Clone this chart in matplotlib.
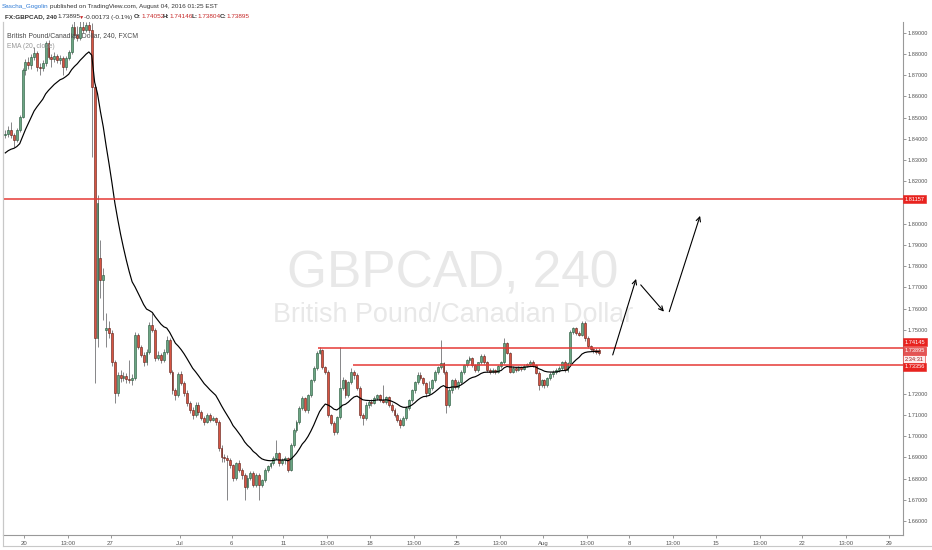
import numpy as np
import pandas as pd
import matplotlib
matplotlib.use("Agg")
import matplotlib.pyplot as plt

plt.rcParams['font.family'] = ['Liberation Sans', 'DejaVu Sans']

# FX:GBPCAD 240 (FXCM) - 4h bars, Jun 16 20:00 .. Aug 04 04:00
bar_times = pd.date_range('2016-06-16 20:00', '2016-08-04 04:00', freq='4h')
bar_times = bar_times[bar_times.dayofweek < 5]

opens = [
    1.8418, 1.8423, 1.8442, 1.8418, 1.8395, 1.8442, 1.8503, 1.8724, 1.8762, 1.8748,
    1.8786, 1.8804, 1.8738, 1.8734, 1.8757, 1.8851, 1.8786, 1.8776, 1.8790, 1.8771,
    1.8781, 1.8738, 1.8781, 1.8809, 1.8927, 1.8889, 1.8875, 1.8927, 1.8913, 1.8935,
    1.8913, 1.8644, 1.7462, 1.7839, 1.7735, 1.7500, 1.7509, 1.7486, 1.7349, 1.7203,
    1.7288, 1.7274, 1.7283, 1.7269, 1.7264, 1.7274, 1.7476, 1.7420, 1.7382, 1.7349,
    1.7396, 1.7523, 1.7500, 1.7368, 1.7382, 1.7358, 1.7396, 1.7453, 1.7302, 1.7217,
    1.7194, 1.7292, 1.7250, 1.7203, 1.7156, 1.7123, 1.7099, 1.7146, 1.7113, 1.7085,
    1.7066, 1.7099, 1.7076, 1.7085, 1.7066, 1.6944, 1.6901, 1.6897, 1.6888, 1.6864,
    1.6803, 1.6873, 1.6840, 1.6817, 1.6760, 1.6803, 1.6826, 1.6770, 1.6817, 1.6770,
    1.6793, 1.6840, 1.6859, 1.6873, 1.6897, 1.6920, 1.6873, 1.6888, 1.6897, 1.6840,
    1.6958, 1.7029, 1.7066, 1.7132, 1.7179, 1.7123, 1.7194, 1.7264, 1.7321, 1.7391,
    1.7406, 1.7325, 1.7302, 1.7099, 1.7061, 1.7019, 1.7090, 1.7226, 1.7264, 1.7194,
    1.7255, 1.7302, 1.7288, 1.7226, 1.7099, 1.7085, 1.7146, 1.7161, 1.7156, 1.7179,
    1.7194, 1.7170, 1.7161, 1.7184, 1.7146, 1.7123, 1.7099, 1.7076, 1.7052, 1.7085,
    1.7132, 1.7170, 1.7217, 1.7255, 1.7288, 1.7274, 1.7250, 1.7203, 1.7226, 1.7264,
    1.7302, 1.7325, 1.7344, 1.7302, 1.7146, 1.7217, 1.7264, 1.7231, 1.7255, 1.7302,
    1.7335, 1.7358, 1.7368, 1.7335, 1.7311, 1.7349, 1.7377, 1.7349, 1.7311, 1.7302,
    1.7311, 1.7302, 1.7330, 1.7349, 1.7438, 1.7391, 1.7302, 1.7321, 1.7311, 1.7325,
    1.7316, 1.7330, 1.7340, 1.7349, 1.7335, 1.7297, 1.7241, 1.7264, 1.7241, 1.7274,
    1.7292, 1.7302, 1.7311, 1.7321, 1.7349, 1.7311, 1.7344, 1.7490, 1.7509, 1.7486,
    1.7476, 1.7533, 1.7462, 1.7424, 1.7410, 1.7406, 1.74052,
]
highs = [
    1.8440, 1.8460, 1.8480, 1.8425, 1.8450, 1.8510, 1.8735, 1.8775, 1.8785, 1.8800,
    1.8830, 1.8815, 1.8755, 1.8770, 1.8860, 1.8865, 1.8800, 1.8810, 1.8800, 1.8795,
    1.8790, 1.8790, 1.8820, 1.8940, 1.8960, 1.8930, 1.8960, 1.8960, 1.8950, 1.8955,
    1.8945, 1.8660, 1.8136, 1.7924, 1.7790, 1.7580, 1.7540, 1.7500, 1.7360, 1.7300,
    1.7310, 1.7300, 1.7295, 1.7358, 1.7290, 1.7490, 1.7485, 1.7430, 1.7395, 1.7410,
    1.7535, 1.7580, 1.7510, 1.7400, 1.7390, 1.7410, 1.7470, 1.7460, 1.7310, 1.7225,
    1.7300, 1.7305, 1.7260, 1.7215, 1.7165, 1.7135, 1.7160, 1.7160, 1.7125, 1.7095,
    1.7110, 1.7110, 1.7095, 1.7090, 1.7075, 1.6960, 1.6915, 1.6910, 1.6895, 1.6870,
    1.6880, 1.6885, 1.6850, 1.6825, 1.6815, 1.6835, 1.6835, 1.6825, 1.6825, 1.6800,
    1.6850, 1.6865, 1.6880, 1.6905, 1.6982, 1.6925, 1.6895, 1.6905, 1.6900, 1.6965,
    1.7040, 1.7075, 1.7140, 1.7190, 1.7185, 1.7200, 1.7270, 1.7330, 1.7400, 1.7420,
    1.7410, 1.7330, 1.7310, 1.7105, 1.7070, 1.7095, 1.7420, 1.7280, 1.7270, 1.7260,
    1.7320, 1.7310, 1.7295, 1.7235, 1.7110, 1.7160, 1.7170, 1.7175, 1.7190, 1.7200,
    1.7200, 1.7240, 1.7190, 1.7190, 1.7155, 1.7130, 1.7110, 1.7085, 1.7095, 1.7140,
    1.7175, 1.7220, 1.7260, 1.7300, 1.7300, 1.7280, 1.7255, 1.7260, 1.7270, 1.7310,
    1.7330, 1.7453, 1.7350, 1.7310, 1.7225, 1.7270, 1.7275, 1.7265, 1.7310, 1.7340,
    1.7365, 1.7375, 1.7372, 1.7340, 1.7350, 1.7385, 1.7385, 1.7355, 1.7320, 1.7320,
    1.7315, 1.7335, 1.7355, 1.7462, 1.7445, 1.7395, 1.7330, 1.7325, 1.7330, 1.7330,
    1.7340, 1.7345, 1.7360, 1.7360, 1.7340, 1.7305, 1.7270, 1.7270, 1.7280, 1.7300,
    1.7310, 1.7320, 1.7330, 1.7355, 1.7360, 1.7350, 1.7500, 1.7515, 1.7515, 1.7495,
    1.7540, 1.7540, 1.7470, 1.7430, 1.7415, 1.7415, 1.74146,
]
lows = [
    1.8405, 1.8410, 1.8405, 1.8362, 1.8385, 1.8430, 1.8500, 1.8700, 1.8730, 1.8730,
    1.8770, 1.8720, 1.8700, 1.8720, 1.8745, 1.8775, 1.8740, 1.8760, 1.8755, 1.8750,
    1.8700, 1.8725, 1.8770, 1.8800, 1.8870, 1.8860, 1.8865, 1.8900, 1.8905, 1.8900,
    1.8315, 1.7250, 1.7420, 1.7650, 1.7547, 1.7420, 1.7460, 1.7330, 1.7156, 1.7190,
    1.7255, 1.7260, 1.7250, 1.7250, 1.7240, 1.7265, 1.7410, 1.7370, 1.7330, 1.7335,
    1.7385, 1.7490, 1.7355, 1.7360, 1.7345, 1.7350, 1.7385, 1.7290, 1.7200, 1.7170,
    1.7185, 1.7240, 1.7190, 1.7140, 1.7110, 1.7080, 1.7090, 1.7100, 1.7075, 1.7050,
    1.7060, 1.7065, 1.7070, 1.7050, 1.6930, 1.6880, 1.6880, 1.6700, 1.6850, 1.6790,
    1.6795, 1.6830, 1.6800, 1.6700, 1.6750, 1.6795, 1.6760, 1.6760, 1.6700, 1.6760,
    1.6785, 1.6830, 1.6850, 1.6865, 1.6890, 1.6860, 1.6865, 1.6870, 1.6830, 1.6835,
    1.6950, 1.7020, 1.7055, 1.7125, 1.7115, 1.7110, 1.7185, 1.7255, 1.7310, 1.7385,
    1.7315, 1.7290, 1.7090, 1.7050, 1.7005, 1.7010, 1.7080, 1.7215, 1.7180, 1.7185,
    1.7245, 1.7270, 1.7215, 1.7085, 1.7050, 1.7075, 1.7130, 1.7140, 1.7150, 1.7170,
    1.7160, 1.7155, 1.7150, 1.7135, 1.7115, 1.7090, 1.7065, 1.7040, 1.7045, 1.7075,
    1.7125, 1.7160, 1.7205, 1.7245, 1.7265, 1.7240, 1.7185, 1.7195, 1.7215, 1.7255,
    1.7290, 1.7315, 1.7290, 1.7109, 1.7135, 1.7205, 1.7220, 1.7220, 1.7245, 1.7290,
    1.7325, 1.7345, 1.7325, 1.7300, 1.7300, 1.7340, 1.7340, 1.7300, 1.7290, 1.7295,
    1.7290, 1.7295, 1.7320, 1.7340, 1.7385, 1.7295, 1.7295, 1.7300, 1.7305, 1.7305,
    1.7310, 1.7325, 1.7330, 1.7325, 1.7290, 1.7217, 1.7230, 1.7225, 1.7230, 1.7265,
    1.7280, 1.7290, 1.7300, 1.7310, 1.7300, 1.7300, 1.7335, 1.7480, 1.7475, 1.7470,
    1.7470, 1.7450, 1.7415, 1.7400, 1.7390, 1.7385, 1.73804,
]
closes = [
    1.8423, 1.8442, 1.8418, 1.8395, 1.8442, 1.8503, 1.8724, 1.8762, 1.8748, 1.8786,
    1.8804, 1.8738, 1.8734, 1.8757, 1.8851, 1.8786, 1.8776, 1.8790, 1.8771, 1.8781,
    1.8738, 1.8781, 1.8809, 1.8927, 1.8889, 1.8875, 1.8927, 1.8913, 1.8935, 1.8913,
    1.8644, 1.7462, 1.8098, 1.7735, 1.7759, 1.7509, 1.7486, 1.7349, 1.7203, 1.7288,
    1.7274, 1.7283, 1.7269, 1.7264, 1.7274, 1.7476, 1.7420, 1.7382, 1.7349, 1.7396,
    1.7523, 1.7500, 1.7368, 1.7382, 1.7358, 1.7396, 1.7453, 1.7302, 1.7217, 1.7194,
    1.7292, 1.7250, 1.7203, 1.7156, 1.7123, 1.7099, 1.7146, 1.7113, 1.7085, 1.7066,
    1.7099, 1.7076, 1.7085, 1.7066, 1.6944, 1.6901, 1.6897, 1.6888, 1.6864, 1.6803,
    1.6873, 1.6840, 1.6817, 1.6760, 1.6803, 1.6826, 1.6770, 1.6817, 1.6770, 1.6793,
    1.6840, 1.6859, 1.6873, 1.6897, 1.6920, 1.6873, 1.6888, 1.6897, 1.6840, 1.6958,
    1.7029, 1.7066, 1.7132, 1.7179, 1.7123, 1.7194, 1.7264, 1.7321, 1.7391, 1.7406,
    1.7325, 1.7302, 1.7099, 1.7061, 1.7019, 1.7090, 1.7226, 1.7264, 1.7194, 1.7255,
    1.7302, 1.7288, 1.7226, 1.7099, 1.7085, 1.7146, 1.7161, 1.7156, 1.7179, 1.7194,
    1.7170, 1.7161, 1.7184, 1.7146, 1.7123, 1.7099, 1.7076, 1.7052, 1.7085, 1.7132,
    1.7170, 1.7217, 1.7255, 1.7288, 1.7274, 1.7250, 1.7203, 1.7226, 1.7264, 1.7302,
    1.7325, 1.7344, 1.7302, 1.7146, 1.7217, 1.7264, 1.7231, 1.7255, 1.7302, 1.7335,
    1.7358, 1.7368, 1.7335, 1.7311, 1.7349, 1.7377, 1.7349, 1.7311, 1.7302, 1.7311,
    1.7302, 1.7330, 1.7349, 1.7438, 1.7391, 1.7302, 1.7321, 1.7311, 1.7325, 1.7316,
    1.7330, 1.7340, 1.7349, 1.7335, 1.7297, 1.7241, 1.7264, 1.7241, 1.7274, 1.7292,
    1.7302, 1.7311, 1.7321, 1.7349, 1.7311, 1.7344, 1.7490, 1.7509, 1.7486, 1.7476,
    1.7533, 1.7462, 1.7424, 1.7410, 1.7406, 1.7396, 1.73895,
]

ema_seed = 1.8324  # EMA(20) value at left edge of the chart

# horizontal levels drawn on the chart
level_main = 1.81157
levels = [1.74145, 1.73356]
level_starts = ['2016-07-13', '2016-07-15']

# hand drawn forecast arrows (trading-day position, price)
arrows = [((34.03, 1.7382), (35.38, 1.7740)),
          ((35.65, 1.7712), (36.99, 1.7586)),
          ((37.30, 1.7586), (39.08, 1.8037))]

xtick_times = ['2016-06-20', '2016-06-22 13:00', '2016-06-27', '2016-07-01', '2016-07-06',
               '2016-07-11', '2016-07-13 13:00', '2016-07-18', '2016-07-20 13:00', '2016-07-25',
               '2016-07-27 13:00', '2016-08-01', '2016-08-03 13:00', '2016-08-08', '2016-08-10 13:00',
               '2016-08-15', '2016-08-17 13:00', '2016-08-22', '2016-08-24 13:00', '2016-08-29']
xtick_labels = ['20', '13:00', '27', 'Jul', '6', '11', '13:00', '18', '13:00', '25',
                '13:00', 'Aug', '13:00', '8', '13:00', '15', '13:00', '22', '13:00', '29']
ytick_values = [1.66, 1.67, 1.68, 1.69, 1.70, 1.71, 1.72, 1.75, 1.76, 1.77, 1.78,
                1.79, 1.80, 1.82, 1.83, 1.84, 1.85, 1.86, 1.87, 1.88, 1.89]


def trading_pos(ts):
    # position in trading days from Mon Jun 20 (weekends collapsed)
    ts = pd.Timestamp(ts)
    days = np.busday_count(np.datetime64('2016-06-20'), np.datetime64(ts.date()))
    return days + (ts.hour + ts.minute / 60.0) / 24.0


W, H = 932, 550
fig = plt.figure(figsize=(W / 100, H / 100), dpi=100)
fig.patch.set_facecolor('white')
ax = fig.add_axes([3 / W, 15 / H, 900 / W, 513 / H])

x = np.array([trading_pos(t) for t in bar_times]) + 2 / 24.0
o = np.array(opens)
hi = np.array(highs)
lo = np.array(lows)
c = np.array(closes)
up = c >= o

xmin, xmax = -1.214, 50.81
ax.set_xlim(xmin, xmax)
ax.set_ylim(1.6534, 1.8950)

# watermark
ax.text(0.5, 0.483, 'GBPCAD, 240', transform=ax.transAxes, ha='center', va='baseline',
        fontsize=37, color='#e8e8e8', zorder=0)
ax.text(0.5, 0.415, 'British Pound/Canadian Dollar', transform=ax.transAxes, ha='center',
        va='baseline', fontsize=19.4, color='#e8e8e8', zorder=0)

# candles
ax.vlines(x, lo, hi, color='#737375', lw=0.6, zorder=2)
body = np.maximum(np.abs(c - o), 0.00015)
ax.bar(x[up], body[up], bottom=o[up], width=0.11, color='#6ba583',
       edgecolor='#225437', linewidth=0.4, zorder=3)
ax.bar(x[~up], body[~up], bottom=c[~up], width=0.11, color='#d75442',
       edgecolor='#5b1a13', linewidth=0.4, zorder=3)

# EMA (20, close)
ema = pd.Series([ema_seed] + closes).ewm(span=20, adjust=False).mean().to_numpy()[1:]
ax.plot(x, ema, color='black', lw=0.85, zorder=4)

# levels
line_red = '#e53935'
ax.axhline(level_main, color=line_red, lw=1.1, zorder=5)
for lv, st in zip(levels, level_starts):
    ax.hlines(lv, trading_pos(st), xmax, color=line_red, lw=1.1, zorder=5)

# forecast arrows
for (x0, y0), (x1, y1) in arrows:
    ax.annotate('', xy=(x1, y1), xytext=(x0, y0),
                arrowprops=dict(arrowstyle='->', color='black', lw=0.8,
                                shrinkA=0, shrinkB=0, mutation_scale=8), zorder=6)

# axes styling
ax.set_xticks([trading_pos(t) for t in xtick_times])
ax.set_xticklabels(xtick_labels)
ax.yaxis.tick_right()
ax.set_yticks(ytick_values)
ax.set_yticklabels([f'{v:.5f}' for v in ytick_values])
ax.tick_params(axis='x', length=2, width=0.6, colors='#888888', labelcolor='#555555',
               labelsize=4.3, pad=2)
ax.tick_params(axis='y', length=2, width=0.6, colors='#888888', labelcolor='#555555',
               labelsize=4.1, pad=1.5)
ax.spines['top'].set_visible(False)
ax.spines['left'].set_color('#c8c8c8')
ax.spines['bottom'].set_color('#999999')
ax.spines['right'].set_color('#999999')
for s in ax.spines.values():
    s.set_linewidth(0.8)

# price axis labels
box_red = '#e8231f'
price_tags = [(level_main, '1.81157', 0.0, box_red, 'white'),
              (1.74145, '1.74145', 4.3, box_red, 'white'),
              (1.73895, '1.73895', 1.7, '#e25555', 'white'),
              (1.73895, '2:34:31', -4.2, '#fdecec', '#9b1c1c'),
              (1.73356, '1.73356', -1.4, box_red, 'white')]
for val, txt, dy, fc, tc in price_tags:
    ax.annotate(txt, xy=(1, val), xycoords=('axes fraction', 'data'),
                xytext=(1.0, dy), textcoords='offset points', ha='left', va='center',
                fontsize=4.1, color=tc, annotation_clip=False, zorder=10,
                bbox=dict(boxstyle='square,pad=0.3', fc=fc, ec=box_red, lw=0.4))

# outer frame
fig.add_artist(plt.Line2D([3 / W, 931 / W], [1 - 546 / H, 1 - 546 / H],
                          transform=fig.transFigure, color='#c8c8c8', lw=0.8))
fig.add_artist(plt.Line2D([3 / W, 3 / W], [1 - 546 / H, 1 - 22 / H],
                          transform=fig.transFigure, color='#c8c8c8', lw=0.8))

# header
dark = '#333333'
hred = '#c62828'
hs = 4.6


def ftext(px, py, s, **kw):
    fig.text(px / W, 1 - py / H, s, va='center', ha='left', **kw)


ftext(2, 6.5, 'Sascha_Gogolin', fontsize=hs, color='#2f7bd6')
ftext(50, 6.5, 'published on TradingView.com, August 04, 2016 01:25 EST', fontsize=hs, color=dark)
ftext(4.7, 17, 'FX:GBPCAD, 240', fontsize=hs, color=dark, fontweight='bold')
ftext(57, 17, '1.73895', fontsize=hs, color=dark)
ftext(78.5, 17, '\u25bc', fontsize=3.8, color=hred)
ftext(84, 17, '-0.00173 (-0.1%)', fontsize=hs, color=dark)
ftext(134, 17, 'O:', fontsize=hs, color=dark, fontweight='bold')
ftext(141, 17, '1.74052', fontsize=hs, color=hred)
ftext(163, 17, 'H:', fontsize=hs, color=dark, fontweight='bold')
ftext(169, 17, '1.74146', fontsize=hs, color=hred)
ftext(192, 17, 'L:', fontsize=hs, color=dark, fontweight='bold')
ftext(197, 17, '1.73804', fontsize=hs, color=hred)
ftext(220, 17, 'C:', fontsize=hs, color=dark, fontweight='bold')
ftext(226, 17, '1.73895', fontsize=hs, color=hred)

# legend
ftext(7, 35.5, 'British Pound/Canadian Dollar, 240, FXCM', fontsize=4.95, color='#4a4a4a')
ftext(7, 46, 'EMA (20, close)', fontsize=4.9, color='#999999')

fig.savefig('out.png', dpi=100, facecolor='white')
